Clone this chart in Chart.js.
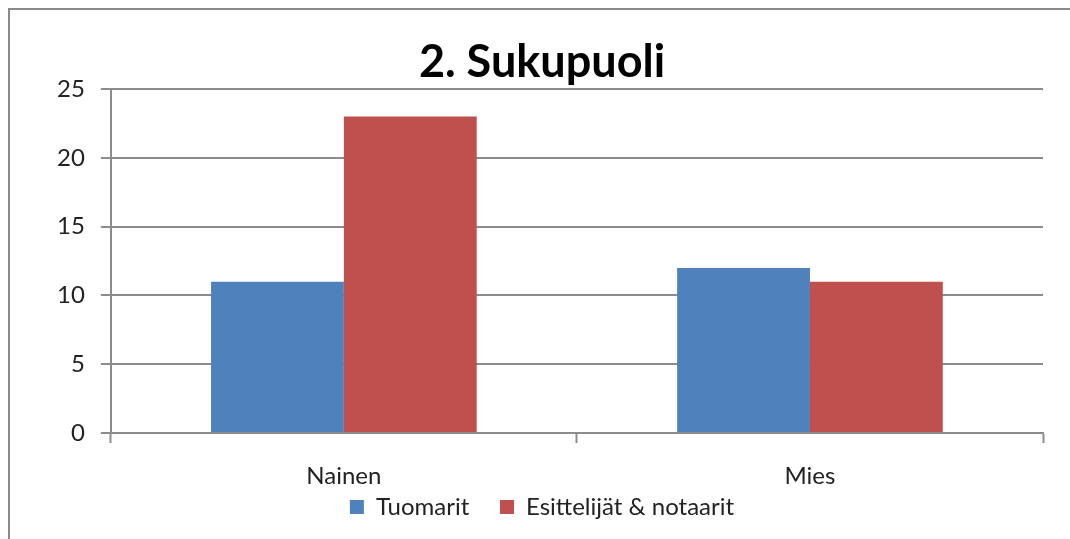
<!DOCTYPE html>
<html>
<head>
<meta charset="utf-8">
<script src="https://cdn.jsdelivr.net/npm/chart.js@4"></script>
<style>
  html, body { margin: 0; padding: 0; background: #fff; overflow: hidden; }
  #wrap { position: relative; width: 1070px; height: 539px; }
  #frame { position: absolute; left: 8px; top: 8px; width: 1100px; height: 600px;
           border-left: 2px solid #8a8a8a; border-top: 2px solid #8a8a8a; box-sizing: border-box; }
  canvas { position: absolute; left: 0; top: 0; }
</style>
</head>
<body>
<div id="wrap">
  <div id="frame"></div>
  <canvas id="chart" width="1070" height="539"></canvas>
</div>
<script>
// data
const categories = ['Nainen', 'Mies'];
const tuomarit   = [11, 12];
const esittelijat = [23, 11];
const seriesNames = ['Tuomarit', 'Esittelijät & notaarit'];

const FONT = 'Lato, "Open Sans", sans-serif';
const GRID = '#8c8c8c';
const X_TICK_LEN = 24;   // reserved space below the axis
const X_TICK_SHOWN = 10; // visible part of the tick mark

// legend padding is 0, so the gap between the two items comes from trailing spaces
function legendLabels(chart) {
    const items = Chart.defaults.plugins.legend.labels.generateLabels(chart);
    items.forEach((it, i) => { if (i < items.length - 1) it.text += '     '; });
    return items;
}

// only the top part of the x tick marks is painted
function xTickColor(ctx) {
    const a = ctx.chart.chartArea;
    if (!a) return GRID;
    const g = ctx.chart.ctx.createLinearGradient(0, a.bottom, 0, a.bottom + X_TICK_LEN);
    const cut = X_TICK_SHOWN / X_TICK_LEN;
    g.addColorStop(0, GRID);
    g.addColorStop(cut, GRID);
    g.addColorStop(cut, 'rgba(0,0,0,0)');
    g.addColorStop(1, 'rgba(0,0,0,0)');
    return g;
}

new Chart(document.getElementById('chart').getContext('2d'), {
    type: 'bar',
    data: {
        labels: categories,
        datasets: [
            { label: seriesNames[0], data: tuomarit,    backgroundColor: '#4F81BD', borderWidth: 0 },
            { label: seriesNames[1], data: esittelijat, backgroundColor: '#C0504D', borderWidth: 0 }
        ]
    },
    options: {
        responsive: false,
        animation: false,
        devicePixelRatio: 1,
        layout: { padding: { left: 41, right: 27, top: 35, bottom: 10 } },
        datasets: { bar: { categoryPercentage: 0.57, barPercentage: 1.0 } },
        plugins: {
            title: {
                display: true,
                text: '2. Sukupuoli',
                color: '#000',
                font: { family: FONT, size: 45, weight: 'bold' },
                padding: { top: 0, bottom: 0 }
            },
            legend: {
                position: 'bottom',
                labels: {
                    color: '#222',
                    font: { family: FONT, size: 24, lineHeight: 1 },
                    boxWidth: 14, boxHeight: 14,
                    padding: 0,
                    generateLabels: legendLabels
                }
            },
            tooltip: { enabled: false }
        },
        scales: {
            x: {
                offset: true,
                grid: { offset: true, drawOnChartArea: false, tickLength: X_TICK_LEN, tickColor: xTickColor, tickWidth: 2 },
                border: { color: GRID, width: 2 },
                ticks: { color: '#222', font: { family: FONT, size: 24, lineHeight: 0.5 }, padding: 13 }
            },
            y: {
                min: 0, max: 25,
                ticks: { stepSize: 5, color: '#222', font: { family: FONT, size: 24 }, padding: 16 },
                grid: { color: GRID, lineWidth: 2, tickLength: 10, tickColor: GRID },
                border: { color: GRID, width: 2 }
            }
        }
    }
});
</script>
</body>
</html>
